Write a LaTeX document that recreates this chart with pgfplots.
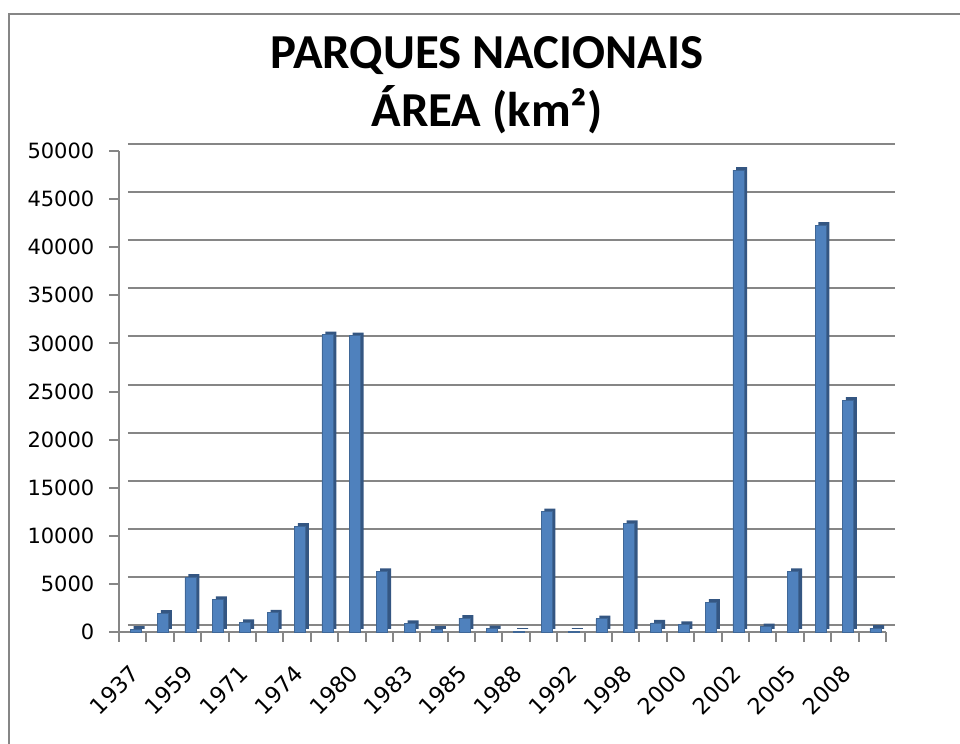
\documentclass[border=0pt]{standalone}
\usepackage{fontspec}
\setmainfont{DejaVu Sans}
\newfontfamily\titlefont{Carlito}
\usepackage{pgfplots}
\usepackage{pgfplotstable}
\pgfplotsset{compat=1.18}
\definecolor{barblue}{RGB}{79,129,189}
\definecolor{barside}{RGB}{52,86,130}
\definecolor{axgray}{RGB}{134,134,134}

% area (km2) per park, in chart order
\pgfplotstableread{
idx area
0 300
1 1950
2 5700
3 3400
4 1000
5 2000
6 11000
7 30900
8 30800
9 6300
10 900
11 300
12 1450
13 350
14 100
15 12500
16 100
17 1400
18 11300
19 950
20 800
21 3100
22 48000
23 550
24 6300
25 42300
26 24100
27 400
}\areadata

\begin{document}
\begin{tikzpicture}
\useasboundingbox (0,0) rectangle (480pt,372pt);
\draw[axgray, line width=1.2pt] (4.5pt,0) -- (4.5pt,365pt) -- (480pt,365pt);
\node[font=\titlefont\bfseries\fontsize{24.4}{28}\selectfont, anchor=base] at (243.5pt,337.5pt) {PARQUES NACIONAIS};
\node[font=\titlefont\bfseries\fontsize{24.4}{28}\selectfont, anchor=base] at (243.5pt,308.5pt) {ÁREA (km²)};
\begin{axis}[
    at={(59.5pt,56pt)}, anchor=south west,
    scale only axis,
    width=383.5pt, height=240.5pt,
    xmin=-0.5, xmax=27.5,
    ymin=0, ymax=50000,
    ytick={0,5000,...,50000},
    % ticks sit on category boundaries; each label is moved half a category right
    xtick={-0.5,0.5,...,27.5},
    xticklabels={1937,,1959,,1971,,1974,,1980,,1983,,1985,,1988,,1992,,1998,,2000,,2002,,2005,,2008,,},
    axis x line*=bottom, axis y line*=left,
    axis line style={axgray, line width=1pt},
    ymajorgrids, xmajorgrids=false,
    major grid style={axgray, line width=1pt, xshift=4.5pt, yshift=3.5pt},
    tick align=outside,
    major tick length=4.8pt,
    tick style={axgray, line width=1pt},
    /pgf/number format/assume math mode=true,
    /pgf/number format/fixed,
    /pgf/number format/1000 sep={},
    scaled y ticks=false,
    tick label style={font=\fontsize{10.5}{12}\selectfont, black},
    yticklabel style={xshift=-4pt},
    xticklabel style={font=\fontsize{11.2}{12}\selectfont, rotate=45, anchor=east, xshift=-1pt, yshift=-15.5pt},
    clip=false,
]
\addplot[ybar, bar width=5.5pt, bar shift=3.2pt, yshift=1.5pt, fill=barside, draw=none] table[x=idx, y=area] {\areadata};
\addplot[ybar, bar width=5.5pt, bar shift=1.5pt, fill=barblue, draw=barblue!80!black, line width=0.3pt] table[x=idx, y=area] {\areadata};
\end{axis}
\end{tikzpicture}
\end{document}
